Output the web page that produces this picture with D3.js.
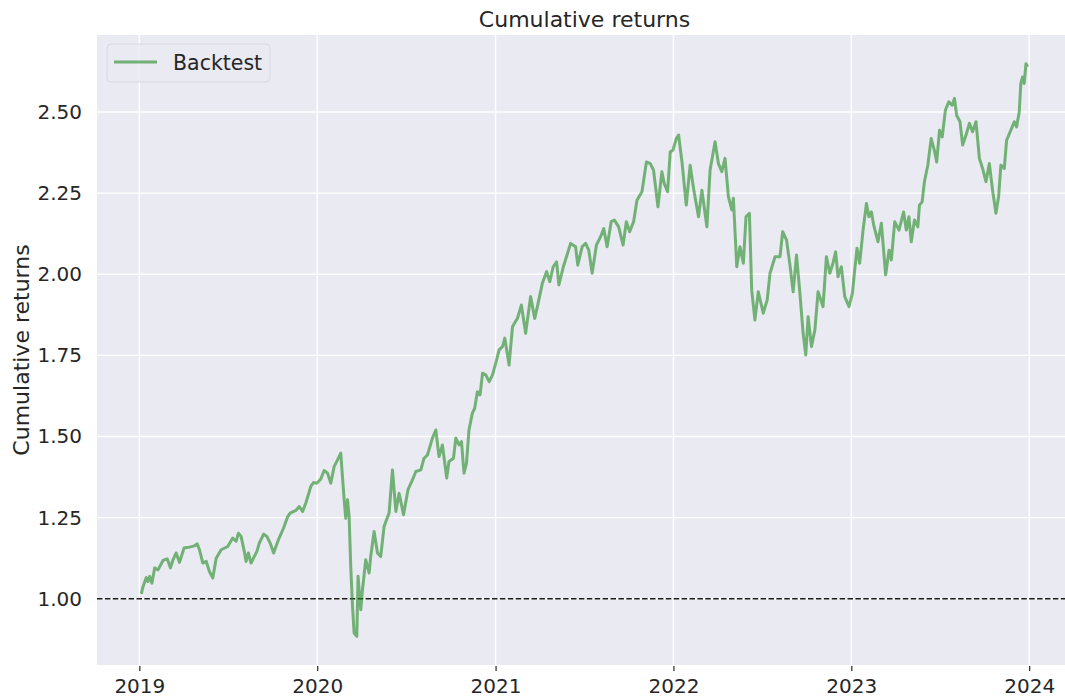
<!DOCTYPE html>
<html>
<head>
<meta charset="utf-8">
<script src="https://cdn.jsdelivr.net/npm/d3@7"></script>
<style>
  body { margin: 0; background: #fff; }
  svg { display: block; font-family: "DejaVu Sans", sans-serif; }
</style>
</head>
<body>
<script>
// dates as decimal years
var dates = [
  2019.011, 2019.021, 2019.039, 2019.049, 2019.058, 2019.071, 2019.086, 2019.105, 2019.133, 2019.157,
  2019.175, 2019.189, 2019.207, 2019.226, 2019.251, 2019.282, 2019.310, 2019.325, 2019.338, 2019.357,
  2019.376, 2019.394, 2019.413, 2019.432, 2019.460, 2019.497, 2019.525, 2019.544, 2019.557, 2019.572,
  2019.590, 2019.600, 2019.613, 2019.628, 2019.646, 2019.661, 2019.674, 2019.699, 2019.717, 2019.736,
  2019.755, 2019.768, 2019.786, 2019.811, 2019.834, 2019.848, 2019.880, 2019.899, 2019.918, 2019.936,
  2019.964, 2019.979, 2019.998, 2020.020, 2020.039, 2020.058, 2020.076, 2020.095, 2020.114, 2020.132,
  2020.151, 2020.160, 2020.170, 2020.179, 2020.188, 2020.198, 2020.207, 2020.222, 2020.229, 2020.244,
  2020.254, 2020.272, 2020.291, 2020.300, 2020.319, 2020.338, 2020.356, 2020.375, 2020.403, 2020.422,
  2020.441, 2020.459, 2020.484, 2020.509, 2020.534, 2020.553, 2020.581, 2020.599, 2020.618, 2020.646,
  2020.665, 2020.683, 2020.702, 2020.726, 2020.739, 2020.764, 2020.777, 2020.795, 2020.809, 2020.823,
  2020.837, 2020.851, 2020.870, 2020.883, 2020.898, 2020.913, 2020.927, 2020.945, 2020.964, 2020.983,
  2021.001, 2021.020, 2021.039, 2021.052, 2021.076, 2021.095, 2021.123, 2021.145, 2021.169, 2021.197,
  2021.220, 2021.235, 2021.263, 2021.287, 2021.305, 2021.324, 2021.343, 2021.356, 2021.381, 2021.393,
  2021.422, 2021.450, 2021.462, 2021.487, 2021.506, 2021.524, 2021.543, 2021.567, 2021.590, 2021.608,
  2021.627, 2021.650, 2021.668, 2021.692, 2021.717, 2021.735, 2021.754, 2021.776, 2021.795, 2021.823,
  2021.848, 2021.870, 2021.888, 2021.913, 2021.935, 2021.948, 2021.967, 2021.982, 2021.997, 2022.016,
  2022.029, 2022.048, 2022.072, 2022.094, 2022.113, 2022.141, 2022.160, 2022.188, 2022.206, 2022.234,
  2022.253, 2022.272, 2022.290, 2022.309, 2022.328, 2022.337, 2022.356, 2022.374, 2022.393, 2022.408,
  2022.427, 2022.440, 2022.458, 2022.477, 2022.505, 2022.527, 2022.543, 2022.571, 2022.599, 2022.614,
  2022.636, 2022.655, 2022.673, 2022.692, 2022.711, 2022.729, 2022.744, 2022.757, 2022.776, 2022.795,
  2022.813, 2022.841, 2022.860, 2022.879, 2022.897, 2022.912, 2022.925, 2022.944, 2022.963, 2022.987,
  2023.006, 2023.019, 2023.032, 2023.047, 2023.066, 2023.085, 2023.099, 2023.113, 2023.126, 2023.150,
  2023.169, 2023.193, 2023.212, 2023.225, 2023.244, 2023.268, 2023.294, 2023.309, 2023.324, 2023.337,
  2023.355, 2023.374, 2023.383, 2023.398, 2023.411, 2023.430, 2023.449, 2023.467, 2023.480, 2023.496,
  2023.511, 2023.529, 2023.548, 2023.567, 2023.580, 2023.592, 2023.611, 2023.626, 2023.645, 2023.664,
  2023.682, 2023.701, 2023.720, 2023.738, 2023.757, 2023.776, 2023.794, 2023.813, 2023.828, 2023.841,
  2023.860, 2023.873, 2023.897, 2023.916, 2023.929, 2023.944, 2023.953, 2023.963, 2023.972, 2023.982,
  2023.991
];

var backtest = [
  1.015, 1.038, 1.065, 1.053, 1.069, 1.048, 1.095, 1.089, 1.118, 1.123,
  1.095, 1.120, 1.141, 1.112, 1.156, 1.159, 1.163, 1.169, 1.151, 1.110,
  1.115, 1.084, 1.064, 1.125, 1.151, 1.161, 1.187, 1.177, 1.202, 1.192,
  1.146, 1.115, 1.141, 1.110, 1.130, 1.146, 1.171, 1.199, 1.192, 1.171,
  1.141, 1.161, 1.187, 1.218, 1.253, 1.264, 1.272, 1.284, 1.269, 1.295,
  1.346, 1.358, 1.356, 1.369, 1.395, 1.387, 1.356, 1.407, 1.428, 1.449,
  1.305, 1.248, 1.305, 1.253, 1.099, 0.976, 0.894, 0.884, 1.069, 0.966,
  1.028, 1.120, 1.079, 1.130, 1.207, 1.141, 1.130, 1.223, 1.264, 1.397,
  1.269, 1.325, 1.259, 1.336, 1.366, 1.392, 1.397, 1.433, 1.443, 1.495,
  1.520, 1.438, 1.474, 1.372, 1.423, 1.433, 1.495, 1.474, 1.484, 1.387,
  1.418, 1.520, 1.572, 1.587, 1.638, 1.628, 1.695, 1.690, 1.669, 1.690,
  1.726, 1.767, 1.777, 1.803, 1.720, 1.838, 1.864, 1.905, 1.818, 1.931,
  1.864, 1.900, 1.972, 2.008, 1.977, 2.023, 2.038, 1.967, 2.023, 2.044,
  2.095, 2.085, 2.028, 2.085, 2.095, 2.074, 2.003, 2.090, 2.115, 2.141,
  2.085, 2.162, 2.167, 2.146, 2.090, 2.162, 2.131, 2.162, 2.228, 2.254,
  2.346, 2.341, 2.321, 2.208, 2.316, 2.280, 2.254, 2.377, 2.382, 2.418,
  2.429, 2.346, 2.213, 2.336, 2.264, 2.177, 2.259, 2.146, 2.321, 2.408,
  2.341, 2.316, 2.357, 2.239, 2.198, 2.234, 2.023, 2.085, 2.034, 2.177,
  2.188, 1.951, 1.859, 1.946, 1.880, 1.921, 2.003, 2.054, 2.054, 2.131,
  2.105, 2.028, 1.946, 2.059, 1.941, 1.818, 1.751, 1.869, 1.777, 1.828,
  1.946, 1.900, 2.054, 2.003, 2.034, 2.069, 1.992, 2.023, 1.931, 1.900,
  1.941, 2.013, 2.080, 2.034, 2.136, 2.218, 2.177, 2.192, 2.151, 2.100,
  2.157, 1.998, 2.074, 2.044, 2.162, 2.136, 2.192, 2.136, 2.177, 2.100,
  2.167, 2.146, 2.213, 2.223, 2.285, 2.336, 2.418, 2.382, 2.346, 2.444,
  2.423, 2.506, 2.531, 2.521, 2.542, 2.490, 2.470, 2.398, 2.429, 2.465,
  2.439, 2.470, 2.357, 2.326, 2.285, 2.341, 2.259, 2.188, 2.239, 2.336,
  2.326, 2.413, 2.444, 2.470, 2.454, 2.500, 2.588, 2.608, 2.588, 2.649,
  2.639
];

var yearTicks = [2019, 2020, 2021, 2022, 2023, 2024];
var valueTicks = [1.00, 1.25, 1.50, 1.75, 2.00, 2.25, 2.50];
var baseline = 1.0;
var title = "Cumulative returns";
var seriesName = "Backtest";

var width = 1065;
var height = 700;
var margin = {top: 35, right: -7, bottom: 35, left: 97};

var ink = "#262626";
var bg = "#EAEAF2";

function toDate(t) {
  var y = Math.floor(t);
  var start = new Date(y, 0, 1), end = new Date(y + 1, 0, 1);
  return new Date(+start + (t - y) * (end - start));
}

var data = dates.map(function(t, i) { return {date: toDate(t), value: backtest[i]}; });

// matplotlib-like 5% margins
function pad(ext) {
  var p = (ext[1] - ext[0]) * 0.05;
  return [ext[0] - p, ext[1] + p];
}

var xExt = pad(d3.extent(dates));
var x = d3.scaleTime()
    .domain([toDate(xExt[0]), toDate(xExt[1])])
    .range([margin.left, width - margin.right]);

var y = d3.scaleLinear()
    .domain(pad(d3.extent(backtest)))
    .range([height - margin.bottom, margin.top]);

var svg = d3.select("body").append("svg")
    .attr("width", width)
    .attr("height", height);

svg.append("rect")
    .attr("x", margin.left)
    .attr("y", margin.top)
    .attr("width", width - margin.right - margin.left)
    .attr("height", height - margin.bottom - margin.top)
    .attr("fill", bg);

var grid = svg.append("g")
    .attr("stroke", "#fff")
    .attr("stroke-width", 1.4);

grid.selectAll(".vgrid")
  .data(yearTicks)
  .join("line")
    .attr("class", "vgrid")
    .attr("x1", d => x(new Date(d, 0, 1)))
    .attr("x2", d => x(new Date(d, 0, 1)))
    .attr("y1", margin.top)
    .attr("y2", height - margin.bottom);

grid.selectAll(".hgrid")
  .data(valueTicks)
  .join("line")
    .attr("class", "hgrid")
    .attr("x1", margin.left)
    .attr("x2", width - margin.right)
    .attr("y1", d => y(d))
    .attr("y2", d => y(d));

// x axis: short ticks + year labels
var xAxis = d3.axisBottom(x)
    .tickValues(yearTicks.map(d => new Date(d, 0, 1)))
    .tickFormat(d3.timeFormat("%Y"))
    .tickSizeInner(5)
    .tickSizeOuter(0)
    .tickPadding(8);

svg.append("g")
    .attr("transform", `translate(0,${height - margin.bottom + 1})`)
    .call(xAxis)
    .call(g => g.select(".domain").remove())
    .call(g => g.selectAll("line").attr("stroke", ink).attr("stroke-width", 1.2))
    .call(g => g.selectAll("text")
      .attr("fill", ink)
      .style("font-size", "20px")
      .style("font-family", "DejaVu Sans"));

var yAxis = d3.axisLeft(y)
    .tickValues(valueTicks)
    .tickFormat(d3.format(".2f"))
    .tickSize(0)
    .tickPadding(15);

svg.append("g")
    .attr("transform", `translate(${margin.left},0)`)
    .call(yAxis)
    .call(g => g.select(".domain").remove())
    .call(g => g.selectAll("text")
      .attr("fill", ink)
      .style("font-size", "20px")
      .style("font-family", "DejaVu Sans"));

svg.append("line")
    .attr("x1", margin.left)
    .attr("x2", width - margin.right)
    .attr("y1", y(baseline))
    .attr("y2", y(baseline))
    .attr("stroke", "#1a1a1a")
    .attr("stroke-width", 1.4)
    .attr("stroke-dasharray", "5.5,2.4");

var line = d3.line()
    .x(d => x(d.date))
    .y(d => y(d.value));

svg.append("path")
    .datum(data)
    .attr("fill", "none")
    .attr("stroke", "forestgreen")
    .attr("stroke-opacity", 0.6)
    .attr("stroke-width", 3)
    .attr("stroke-linejoin", "round")
    .attr("d", line);

svg.append("text")
    .attr("x", (margin.left + width - margin.right) / 2)
    .attr("y", 27)
    .attr("text-anchor", "middle")
    .attr("fill", ink)
    .style("font-size", "22px")
    .text(title);

svg.append("text")
    .attr("transform", `translate(29,${(margin.top + height - margin.bottom) / 2}) rotate(-90)`)
    .attr("text-anchor", "middle")
    .attr("fill", ink)
    .style("font-size", "22px")
    .text(title);

// legend
var legend = svg.append("g")
    .attr("transform", `translate(${margin.left + 10},${margin.top + 9})`);

legend.append("rect")
    .attr("width", 163)
    .attr("height", 38)
    .attr("rx", 4)
    .attr("fill", bg)
    .attr("fill-opacity", 0.8)
    .attr("stroke", "#d8d8e2")
    .attr("stroke-width", 1);

legend.append("line")
    .attr("x1", 7)
    .attr("x2", 50)
    .attr("y1", 18)
    .attr("y2", 18)
    .attr("stroke", "forestgreen")
    .attr("stroke-opacity", 0.6)
    .attr("stroke-width", 3);

legend.append("text")
    .attr("x", 66)
    .attr("y", 26)
    .attr("fill", ink)
    .style("font-size", "20.5px")
    .text(seriesName);
</script>
</body>
</html>
